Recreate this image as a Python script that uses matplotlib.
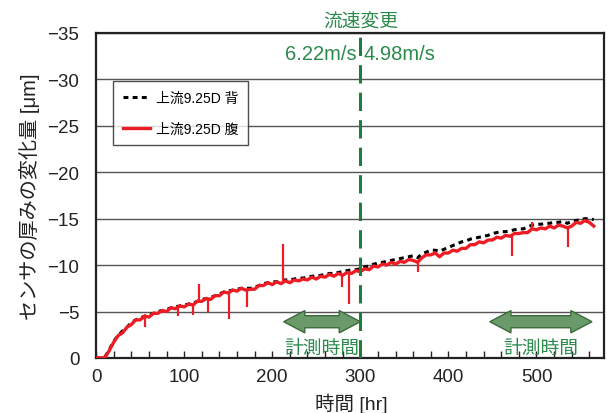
"""
Sensor thickness change vs. elapsed time (upstream 9.25D, back / belly).
"""

import matplotlib
matplotlib.use("Agg")
import matplotlib.pyplot as plt
import numpy as np
from matplotlib.patches import Polygon
from matplotlib.ticker import MultipleLocator

plt.rcParams["font.family"] = ["Liberation Sans", "Noto Sans CJK JP", "DejaVu Sans"]

# --- data (hours, thickness change in um) ---
hours = [0, 5, 10, 15, 20, 25, 30, 35, 40, 45, 50, 55, 60, 65, 70, 75, 80, 85, 90, 95,
         100, 105, 110, 115, 120, 125, 130, 135, 140, 145, 150, 155, 160, 165, 170, 175,
         180, 185, 190, 195, 200, 205, 210, 215, 220, 225, 230, 235, 240, 245, 250, 255,
         260, 265, 270, 275, 280, 285, 290, 295, 300, 305, 310, 315, 320, 325, 330, 335,
         340, 345, 350, 355, 360, 365, 370, 375, 380, 385, 390, 395, 400, 405, 410, 415,
         420, 425, 430, 435, 440, 445, 450, 455, 460, 465, 470, 475, 480, 485, 490, 495,
         500, 505, 510, 515, 520, 525, 530, 535, 540, 545, 550, 555, 560, 565]

belly = [0.0, 0.0, -0.05, -0.8, -1.7, -2.4, -2.7, -3.3, -3.6, -4.1, -4.1, -4.5, -4.4, -4.8,
         -4.8, -5.1, -5.0, -5.4, -5.3, -5.6, -5.5, -5.8, -5.7, -6.1, -6.1, -6.4, -6.3, -6.7,
         -6.7, -7.1, -7.0, -7.3, -7.2, -7.5, -7.3, -7.4, -7.4, -7.8, -7.8, -8.1, -7.9, -8.2,
         -8.0, -8.3, -8.1, -8.4, -8.3, -8.5, -8.4, -8.7, -8.5, -8.8, -8.7, -9.0, -8.8, -9.1,
         -8.9, -9.2, -9.1, -9.4, -9.3, -9.6, -9.5, -9.9, -9.8, -10.1, -10.0, -10.3, -10.1,
         -10.4, -10.3, -10.6, -10.5, -10.3, -10.8, -11.1, -11.1, -11.3, -10.9, -11.3, -11.3,
         -11.6, -11.5, -11.8, -11.8, -12.2, -12.2, -12.5, -12.4, -12.7, -12.7, -13.0, -12.9,
         -13.2, -13.1, -13.4, -13.4, -13.5, -13.5, -13.9, -13.8, -14.0, -13.9, -14.2, -14.0,
         -14.3, -14.2, -14.0, -14.2, -14.6, -14.5, -14.8, -14.6, -14.2]

back = [0.0, 0.0, -0.1, -0.9, -1.8, -2.4, -2.9, -3.3, -3.8, -4.1, -4.3, -4.5, -4.6, -4.8,
        -5.0, -5.1, -5.2, -5.4, -5.5, -5.6, -5.7, -5.8, -5.9, -6.1, -6.3, -6.4, -6.5, -6.7,
        -6.9, -7.1, -7.2, -7.3, -7.4, -7.5, -7.5, -7.5, -7.6, -7.8, -8.0, -8.1, -8.2, -8.2,
        -8.3, -8.4, -8.4, -8.5, -8.6, -8.6, -8.7, -8.8, -8.8, -8.9, -9.0, -9.1, -9.1, -9.2,
        -9.3, -9.4, -9.5, -9.5, -9.6, -9.8, -9.9, -10.1, -10.2, -10.3, -10.4, -10.5, -10.6,
        -10.7, -10.8, -10.9, -11.0, -10.8, -11.2, -11.4, -11.6, -11.6, -11.5, -11.7, -11.9,
        -12.1, -12.3, -12.5, -12.6, -12.8, -12.9, -13.0, -13.1, -13.2, -13.4, -13.5, -13.6,
        -13.6, -13.7, -13.8, -13.9, -13.9, -14.1, -14.3, -14.4, -14.4, -14.5, -14.5, -14.6,
        -14.6, -14.7, -14.5, -14.7, -14.8, -14.9, -15.0, -15.0, -14.9]

# isolated spikes in the belly trace
spike_hours = [55.6, 92.7, 110, 116.5, 127, 150.6, 171, 212.6, 279, 287, 365, 472, 494.5, 536]
spike_base = [-4.4, -5.4, -5.8, -6.0, -6.4, -7.0, -7.4, -8.1, -9.0, -9.1, -10.5, -13.2, -13.9, -14.1]
spike_top = [-3.3, -4.5, -4.6, -8.0, -5.0, -4.2, -5.5, -12.3, -7.6, -5.8, -9.3, -11.0, -14.6, -11.9]

flow_change_hr = 300
measure_start = [213, 447]
measure_end = [300, 563]
measure_level = -3.9

GREEN_TXT = "#2b8a4c"
GREEN_LINE = "#1f7d3c"
ARROW_FILL = "#6a9a6a"
ARROW_EDGE = "#3b6a3b"
RED = "#ee1c25"


def arrow_poly(x0, x1, y, head_len=24, head_half=1.2, body_half=0.65):
    """Double-headed block arrow outline in data coordinates."""
    return [
        (x0, y), (x0 + head_len, y - head_half), (x0 + head_len, y - body_half),
        (x1 - head_len, y - body_half), (x1 - head_len, y - head_half), (x1, y),
        (x1 - head_len, y + head_half), (x1 - head_len, y + body_half),
        (x0 + head_len, y + body_half), (x0 + head_len, y + head_half),
    ]


fig = plt.figure(figsize=(6.16, 4.14), dpi=100)
ax = fig.add_axes([0.156, 0.133, 0.825, 0.785])

ax.set_xlim(0, 577)
ax.set_ylim(0, -35)
ax.yaxis.set_major_locator(MultipleLocator(5))
ax.xaxis.set_major_locator(MultipleLocator(100))
ax.xaxis.set_minor_locator(MultipleLocator(20))
ax.grid(axis="y", color="#555555", lw=1.0)
ax.set_axisbelow(True)

for s in ax.spines.values():
    s.set_linewidth(1.6)
    s.set_color("#222222")

ax.tick_params(axis="x", which="both", direction="in", length=5, width=1.0,
               labelsize=13.5, pad=7, colors="#222222")
ax.tick_params(axis="y", length=0, labelsize=13.5, pad=12, colors="#222222")

ax.plot(hours, back, color="black", lw=2.2, dashes=(1.6, 1.4), label="上流9.25D 背", zorder=3)
ax.plot(hours, belly, color=RED, lw=2.4, label="上流9.25D 腹", zorder=4)
ax.vlines(spike_hours, spike_base, spike_top, color=RED, lw=1.6, zorder=4)

ax.axvline(flow_change_hr, color=GREEN_LINE, lw=2.2, dashes=(6, 3), zorder=5)
ax.text(flow_change_hr, 1.008, "流速変更", transform=ax.get_xaxis_transform(),
        ha="center", va="bottom", fontsize=13.5, color=GREEN_TXT)
ax.text(flow_change_hr - 4, -32.8, "6.22m/s", ha="right", va="center",
        fontsize=14.5, color=GREEN_TXT)
ax.text(flow_change_hr + 4, -32.8, "4.98m/s", ha="left", va="center",
        fontsize=14.5, color=GREEN_TXT)

for x0, x1 in zip(measure_start, measure_end):
    ax.add_patch(Polygon(arrow_poly(x0, x1, measure_level), closed=True,
                         facecolor=ARROW_FILL, edgecolor=ARROW_EDGE, lw=1.0, zorder=6))
    ax.text((x0 + x1) / 2, -1.05, "計測時間", ha="center", va="center",
            fontsize=13.5, color=GREEN_TXT, zorder=6)

leg = ax.legend(loc="upper left", bbox_to_anchor=(0.033, 0.852), borderaxespad=0,
                fontsize=10, frameon=True, fancybox=False, edgecolor="#222222",
                handlelength=2.0, labelspacing=1.2, borderpad=0.7, handletextpad=0.4)
leg.get_frame().set_linewidth(1.0)

ax.set_ylabel("センサの厚みの変化量 [μm]", fontsize=14.5, labelpad=5, color="#222222")
fig.text(0.57, 0.05, "時間 [hr]", ha="center", va="top", fontsize=14, color="#222222")

fig.savefig("out.png", dpi=100)
